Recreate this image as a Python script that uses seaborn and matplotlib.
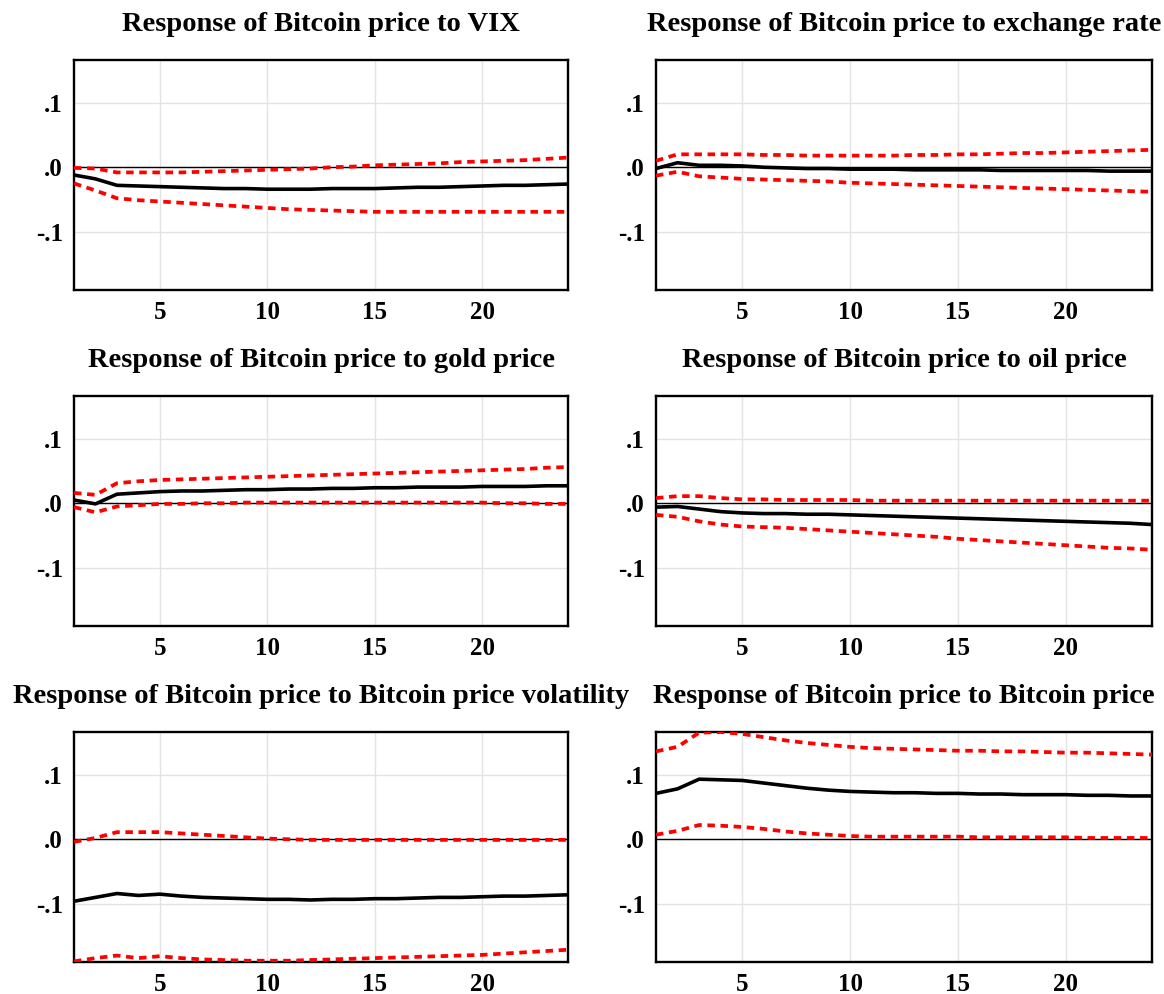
import matplotlib
matplotlib.use("Agg")
import matplotlib.pyplot as plt
import numpy as np
import pandas as pd
import seaborn as sns

# Horizon (periods) and responses
periods = list(range(1, 25))

titles = [
    "Response of Bitcoin price to VIX",
    "Response of Bitcoin price to exchange rate",
    "Response of Bitcoin price to gold price",
    "Response of Bitcoin price to oil price",
    "Response of Bitcoin price to Bitcoin price volatility",
    "Response of Bitcoin price to Bitcoin price",
]

vix_resp = [-0.012, -0.018, -0.028, -0.029, -0.030, -0.031, -0.032, -0.033, -0.033, -0.034, -0.034, -0.034,
            -0.033, -0.033, -0.033, -0.032, -0.031, -0.031, -0.030, -0.029, -0.028, -0.028, -0.027, -0.026]
vix_upper = [-0.001, -0.002, -0.008, -0.008, -0.008, -0.008, -0.007, -0.006, -0.005, -0.004, -0.003, -0.002,
             0.000, 0.001, 0.003, 0.004, 0.005, 0.006, 0.008, 0.009, 0.010, 0.011, 0.013, 0.015]
vix_lower = [-0.025, -0.036, -0.048, -0.051, -0.053, -0.055, -0.057, -0.059, -0.061, -0.063, -0.065, -0.066,
             -0.067, -0.068, -0.069, -0.069, -0.069, -0.069, -0.069, -0.069, -0.069, -0.069, -0.069, -0.069]

fx_resp = [-0.002, 0.007, 0.003, 0.003, 0.002, 0.000, -0.001, -0.002, -0.002, -0.003, -0.003, -0.003,
           -0.004, -0.004, -0.004, -0.004, -0.005, -0.005, -0.005, -0.005, -0.005, -0.006, -0.006, -0.006]
fx_upper = [0.010, 0.020, 0.020, 0.020, 0.020, 0.019, 0.019, 0.018, 0.018, 0.018, 0.018, 0.018,
            0.019, 0.019, 0.020, 0.020, 0.021, 0.022, 0.022, 0.023, 0.024, 0.025, 0.026, 0.027]
fx_lower = [-0.013, -0.007, -0.014, -0.016, -0.018, -0.019, -0.020, -0.021, -0.022, -0.024, -0.025, -0.026,
            -0.027, -0.028, -0.029, -0.030, -0.031, -0.032, -0.033, -0.034, -0.035, -0.036, -0.037, -0.038]

gold_resp = [0.005, -0.001, 0.014, 0.016, 0.018, 0.019, 0.019, 0.020, 0.021, 0.021, 0.022, 0.022,
             0.023, 0.023, 0.024, 0.024, 0.025, 0.025, 0.025, 0.026, 0.026, 0.026, 0.027, 0.027]
gold_upper = [0.016, 0.013, 0.031, 0.034, 0.036, 0.037, 0.038, 0.039, 0.040, 0.041, 0.042, 0.043,
              0.044, 0.045, 0.046, 0.047, 0.048, 0.049, 0.050, 0.051, 0.052, 0.053, 0.055, 0.056]
gold_lower = [-0.006, -0.014, -0.005, -0.003, -0.001, -0.001, 0.000, 0.000, 0.001, 0.001, 0.001, 0.001,
              0.001, 0.001, 0.001, 0.001, 0.001, 0.001, 0.001, 0.001, 0.000, 0.000, -0.001, -0.001]

oil_resp = [-0.006, -0.005, -0.009, -0.013, -0.015, -0.016, -0.016, -0.017, -0.017, -0.018, -0.019, -0.020,
            -0.021, -0.022, -0.023, -0.024, -0.025, -0.026, -0.027, -0.028, -0.029, -0.030, -0.031, -0.033]
oil_upper = [0.008, 0.011, 0.011, 0.008, 0.006, 0.006, 0.005, 0.005, 0.005, 0.005, 0.004, 0.004,
             0.004, 0.004, 0.004, 0.004, 0.004, 0.004, 0.004, 0.004, 0.004, 0.004, 0.004, 0.004]
oil_lower = [-0.018, -0.021, -0.028, -0.033, -0.036, -0.037, -0.038, -0.040, -0.042, -0.044, -0.046, -0.048,
             -0.050, -0.052, -0.055, -0.057, -0.059, -0.061, -0.063, -0.065, -0.067, -0.069, -0.070, -0.072]

vol_resp = [-0.096, -0.090, -0.084, -0.087, -0.085, -0.088, -0.090, -0.091, -0.092, -0.093, -0.093, -0.094,
            -0.093, -0.093, -0.092, -0.092, -0.091, -0.090, -0.090, -0.089, -0.088, -0.088, -0.087, -0.086]
vol_upper = [-0.004, 0.002, 0.011, 0.011, 0.011, 0.009, 0.007, 0.005, 0.003, 0.001, 0.000, -0.001,
             -0.001, -0.001, -0.001, -0.001, -0.001, -0.001, -0.001, -0.001, -0.001, -0.001, -0.001, -0.001]
vol_lower = [-0.189, -0.184, -0.180, -0.184, -0.181, -0.184, -0.186, -0.187, -0.188, -0.188, -0.188, -0.187,
             -0.186, -0.185, -0.184, -0.183, -0.182, -0.181, -0.180, -0.179, -0.177, -0.175, -0.173, -0.171]

btc_resp = [0.071, 0.078, 0.093, 0.092, 0.091, 0.087, 0.083, 0.079, 0.076, 0.074, 0.073, 0.072,
            0.072, 0.071, 0.071, 0.070, 0.070, 0.069, 0.069, 0.069, 0.068, 0.068, 0.067, 0.067]
btc_upper = [0.136, 0.143, 0.165, 0.166, 0.163, 0.158, 0.153, 0.149, 0.146, 0.143, 0.141, 0.140,
             0.139, 0.138, 0.137, 0.137, 0.136, 0.136, 0.135, 0.134, 0.134, 0.133, 0.132, 0.131]
btc_lower = [0.007, 0.013, 0.022, 0.021, 0.019, 0.016, 0.012, 0.009, 0.007, 0.005, 0.004, 0.004,
             0.004, 0.004, 0.004, 0.003, 0.003, 0.003, 0.003, 0.003, 0.002, 0.002, 0.002, 0.002]

responses = [vix_resp, fx_resp, gold_resp, oil_resp, vol_resp, btc_resp]
uppers = [vix_upper, fx_upper, gold_upper, oil_upper, vol_upper, btc_upper]
lowers = [vix_lower, fx_lower, gold_lower, oil_lower, vol_lower, btc_lower]

xticks = [5, 10, 15, 20]
yticks = [0.1, 0.0, -0.1]
ytick_labels = [".1", ".0", "-.1"]

sns.set_theme(style="white")
plt.rcParams["font.family"] = ["Liberation Serif", "DejaVu Serif"]
plt.rcParams["font.weight"] = "bold"
plt.rcParams["text.color"] = "black"
plt.rcParams["xtick.color"] = "black"
plt.rcParams["ytick.color"] = "black"
plt.rcParams["axes.labelcolor"] = "black"

fig = plt.figure(figsize=(11.64, 9.94), dpi=100)

col_left = [74 / 1164, 656 / 1164]
col_width = [494 / 1164, 496 / 1164]
row_bottom = [1 - 290 / 994, 1 - 626 / 994, 1 - 962 / 994]
row_height = 230 / 994

for i, title in enumerate(titles):
    r, c = divmod(i, 2)
    ax = fig.add_axes([col_left[c], row_bottom[r], col_width[c], row_height])

    df = pd.DataFrame({
        "period": periods,
        "response": responses[i],
        "upper": uppers[i],
        "lower": lowers[i],
    })

    ax.axhline(0, color="black", linewidth=1.0, zorder=2)
    sns.lineplot(data=df, x="period", y="upper", ax=ax, color="#ff0000",
                 linewidth=2.7, linestyle=(0, (2.0, 1.5)), zorder=3)
    sns.lineplot(data=df, x="period", y="lower", ax=ax, color="#ff0000",
                 linewidth=2.7, linestyle=(0, (2.0, 1.5)), zorder=3)
    sns.lineplot(data=df, x="period", y="response", ax=ax, color="black",
                 linewidth=2.6, zorder=4)

    ax.set_xlim(1, 24)
    ax.set_ylim(-0.19, 0.166)
    ax.set_xticks(xticks)
    ax.set_xticklabels([str(t) for t in xticks])
    ax.set_yticks(yticks)
    ax.set_yticklabels(ytick_labels)
    ax.grid(True, color="#e3e3e3", linewidth=1.0, zorder=0)
    ax.set_axisbelow(True)
    ax.tick_params(axis="both", length=0, labelsize=18, pad=8, colors="black")
    for lab in ax.get_xticklabels() + ax.get_yticklabels():
        lab.set_fontweight("bold")
    ax.set_xlabel("")
    ax.set_ylabel("")
    for sp in ax.spines.values():
        sp.set_color("black")
        sp.set_linewidth(1.7)
    ax.set_title(title, fontsize=20.5, fontweight="bold", pad=21, color="black")

fig.savefig("out.png", dpi=100)
